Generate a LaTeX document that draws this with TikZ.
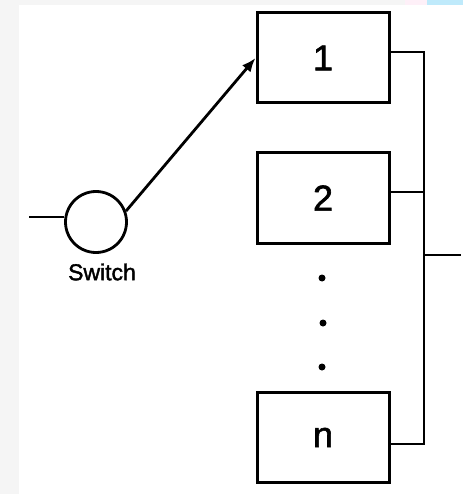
\documentclass[tikz,border=0pt]{standalone}
\usepackage{fontspec}
\setmainfont{Liberation Sans}
\newfontfamily\heavysans[FakeBold=1.6]{Liberation Sans}
\usetikzlibrary{arrows.meta}
\begin{document}
\begin{tikzpicture}[x=1pt,y=-1pt,
  unitbox/.style={draw=black,line width=3pt,minimum width=132pt,minimum height=90pt,inner sep=0pt,font=\heavysans\fontsize{36}{40}\selectfont},
  wire/.style={draw=black,line width=2.8pt},
  dotmark/.style={fill=black,circle,inner sep=0pt,minimum size=7pt}]
% page and frame
\fill[white] (0,0) rectangle (463,494);
\fill[black!4] (0,0) rectangle (463,5);
\fill[black!4] (0,0) rectangle (19,494);
\fill[cyan!25!white] (427,0) rectangle (463,5);
\fill[magenta!6!white] (405,0) rectangle (427,5);
\useasboundingbox (0,0) rectangle (463,494);
% parallel units
\node[unitbox] (u1) at (323,58) {1};
\node[unitbox] (u2) at (323,198) {2};
\node[unitbox] (un) at (323,437.5) {n};
% switch
\node[draw=black,line width=2.8pt,circle,minimum size=61pt,inner sep=0pt] (sw) at (96,222) {};
\node[font=\heavysans\fontsize{23}{26}\selectfont,anchor=center] (swl) at (102,272) {Switch};
\coordinate (in) at (29,217);
\draw[wire] (in) -- (sw.west |- in);
\draw[wire,-{Latex[length=14pt,width=11pt]}] (sw.20) -- (u1.west);
% ellipsis dots
\node[dotmark] (d1) at (322,278) {};
\node[dotmark] (d2) at (323,323) {};
\node[dotmark] (d3) at (322,367) {};
% output bus
\coordinate (b1) at (424,52);
\coordinate (bn) at (424,444);
\coordinate (bo) at (424,255);
\coordinate (out) at (461,255);
\draw[wire] (u1.east |- b1) -- (b1) -- (bn) -- (un.east |- bn);
\draw[wire] (u2.east |- 0,192) -- (424,192);
\draw[wire] (bo) -- (out);
\end{tikzpicture}
\end{document}
